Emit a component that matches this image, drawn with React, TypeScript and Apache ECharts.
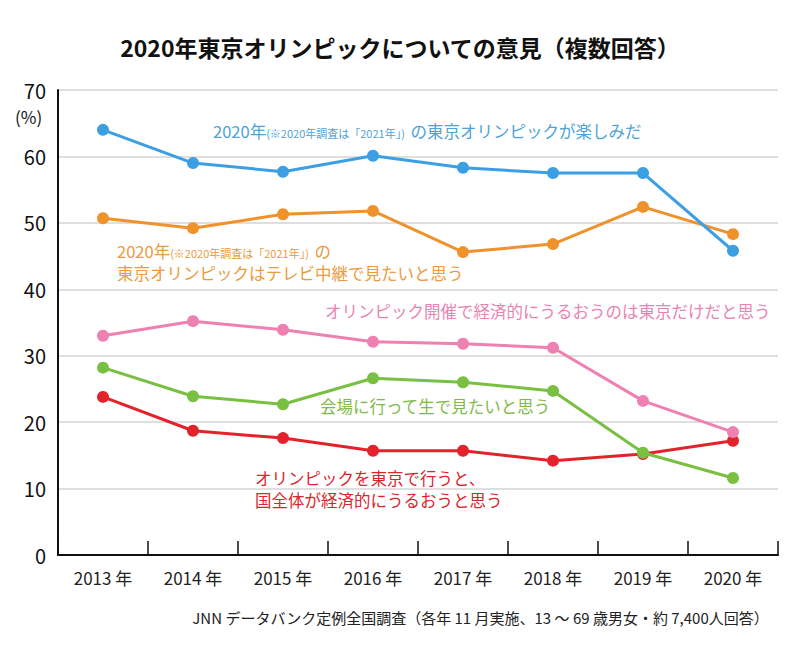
import React, { useEffect, useRef } from "react";
import * as echarts from "echarts";

const years = ["2013 年", "2014 年", "2015 年", "2016 年", "2017 年", "2018 年", "2019 年", "2020 年"];
const enjoy = [64.0, 59.0, 57.7, 60.1, 58.3, 57.5, 57.5, 45.8];
const tv = [50.7, 49.2, 51.3, 51.8, 45.6, 46.8, 52.4, 48.3];
const onlyTokyo = [33.0, 35.2, 33.9, 32.1, 31.8, 31.2, 23.2, 18.5];
const venue = [28.2, 23.9, 22.7, 26.6, 26.0, 24.7, 15.4, 11.6];
const nation = [23.8, 18.7, 17.6, 15.7, 15.7, 14.2, 15.2, 17.2];

const seriesNames = [
  "2020年の東京オリンピックが楽しみだ",
  "東京オリンピックはテレビ中継で見たいと思う",
  "オリンピック開催で経済的にうるおうのは東京だけだと思う",
  "会場に行って生で見たいと思う",
  "オリンピックを東京で行うと、国全体が経済的にうるおうと思う",
];
const colors = ["#3d9fe3", "#f0922b", "#ee80b2", "#79bf41", "#e3232b"];
const textColors = ["#4ea3d8", "#eb9a3d", "#e884b2", "#7fba4c", "#d9262d"];

const FONT = '"Noto Sans CJK JP", "Noto Sans", sans-serif';
const LABEL_SIZE = 16.5;

export default function App() {
  const ref = useRef<HTMLDivElement>(null);
  useEffect(() => {
    if (!ref.current) return;
    const chart = echarts.init(ref.current, null, { renderer: "svg" });
    const data = [enjoy, tv, onlyTokyo, venue, nation];
    const main = (c: string) => ({ fontSize: LABEL_SIZE, fill: c, fontFamily: FONT, verticalAlign: "bottom" as const, lineHeight: 22 });
    const small = (c: string) => ({ fontSize: 11, fill: c, fontFamily: FONT, verticalAlign: "bottom" as const, lineHeight: 22, padding: [0, 0, 1, 0] });
    chart.setOption({
      animation: false,
      textStyle: { fontFamily: FONT },
      title: {
        text: "2020年東京オリンピックについての意見（複数回答）",
        left: "center",
        top: 30,
        textStyle: { fontSize: 23, fontWeight: "bold", color: "#111", fontFamily: FONT },
      },
      grid: { left: 58, right: 22, top: 90, bottom: 103, containLabel: false },
      xAxis: {
        type: "category",
        data: years,
        boundaryGap: true,
        axisLine: { show: true, lineStyle: { color: "#111", width: 2 } },
        axisTick: { show: true, inside: true, length: 14, lineStyle: { color: "#111", width: 1.5 } },
        axisLabel: { color: "#222", fontSize: 17, margin: 14, fontFamily: FONT },
      },
      yAxis: {
        type: "value",
        min: 0,
        max: 70,
        interval: 10,
        axisLine: { show: true, lineStyle: { color: "#111", width: 2 } },
        axisTick: { show: false },
        axisLabel: { color: "#111", fontSize: 20, margin: 12, fontFamily: FONT },
        splitLine: { show: true, lineStyle: { color: "#d4d4d4", width: 1.5 } },
      },
      series: data.map((d, i) => ({
        name: seriesNames[i],
        type: "line",
        data: d,
        symbol: "circle",
        symbolSize: 12,
        lineStyle: { color: colors[i], width: 3 },
        itemStyle: { color: colors[i] },
        z: 10 - i,
      })),
      graphic: [
        { type: "text", left: 15, top: 108, style: { text: "(%)", fontSize: 17, fill: "#111", fontFamily: FONT } },
        {
          type: "text", x: 213, y: 117,
          style: {
            text: "{a|2020年}{b|(※2020年調査は「2021年」)}{a|の東京オリンピックが楽しみだ}",
            rich: { a: main(textColors[0]), b: small(textColors[0]) },
          },
        },
        {
          type: "text", x: 117, y: 237,
          style: {
            text: "{a|2020年}{b|(※2020年調査は「2021年」)}{a|の}\n{a|東京オリンピックはテレビ中継で見たいと思う}",
            rich: { a: main(textColors[1]), b: small(textColors[1]) },
          },
        },
        {
          type: "text", x: 325, y: 303,
          style: { text: "オリンピック開催で経済的にうるおうのは東京だけだと思う", fontSize: LABEL_SIZE, fill: textColors[2], fontFamily: FONT },
        },
        {
          type: "text", x: 320, y: 398,
          style: { text: "会場に行って生で見たいと思う", fontSize: LABEL_SIZE, fill: textColors[3], fontFamily: FONT },
        },
        {
          type: "text", x: 255, y: 467,
          style: { text: "オリンピックを東京で行うと、\n国全体が経済的にうるおうと思う", fontSize: LABEL_SIZE, lineHeight: 22, fill: textColors[4], fontFamily: FONT },
        },
        {
          type: "text", right: 32, top: 610,
          style: { text: "JNN データバンク定例全国調査（各年 11 月実施、13 ～ 69 歳男女・約 7,400人回答）", fontSize: 15, fill: "#222", fontFamily: FONT },
        },
      ],
    });
    return () => chart.dispose();
  }, []);
  return <div ref={ref} style={{ width: 800, height: 658, position: "absolute", left: 0, top: 0, background: "#fff" }} />;
}
